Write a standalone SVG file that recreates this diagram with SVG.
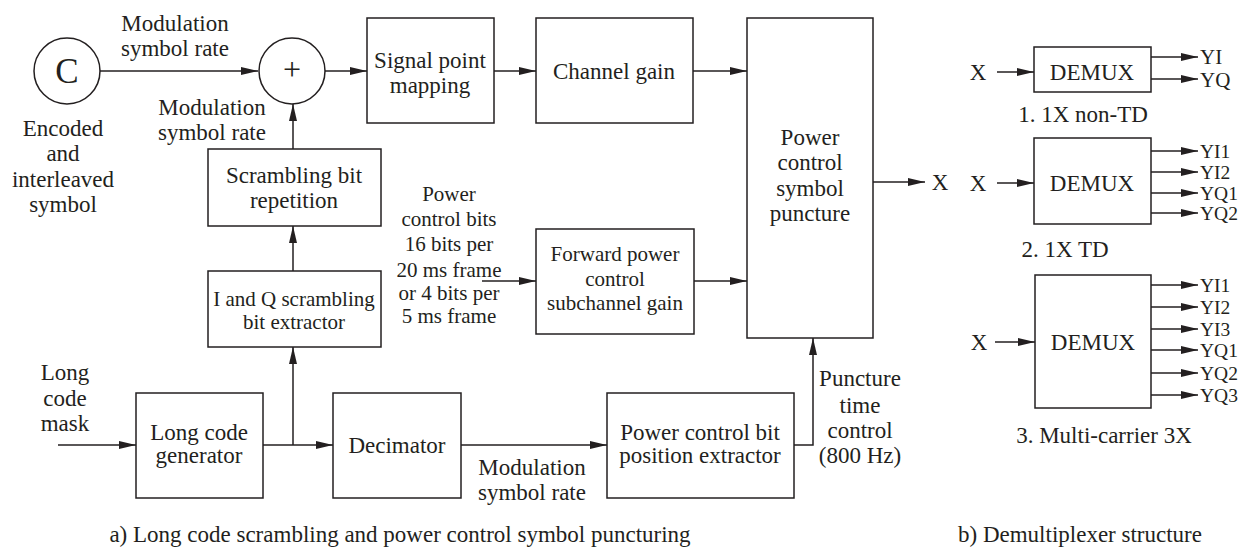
<svg xmlns="http://www.w3.org/2000/svg" width="1247" height="547" viewBox="0 0 1247 547" font-family="'Liberation Serif', 'DejaVu Serif', serif">
<style>
text{font-family:'Liberation Serif','DejaVu Serif',serif;font-size:23px;fill:#231f20;text-anchor:middle}
.s{font-size:21px}
.o{font-size:21px;text-anchor:start}
.p{font-size:19.5px;text-anchor:start}
rect,circle{fill:#fff;stroke:#231f20;stroke-width:1.5}
rect.bg{stroke:none}
.c path{fill:none;stroke:#231f20;stroke-width:1.5;marker-end:url(#a)}
</style>
<defs>
<marker id="a" markerUnits="userSpaceOnUse" markerWidth="17" markerHeight="8" refX="17" refY="4" orient="auto" viewBox="0 0 17 8">
<path d="M0,0 L17,4 L0,8 z" fill="#231f20"/>
</marker>
</defs>
<rect class="bg" width="1247" height="547"/>
<g class="c" id="connectors">
<path d="M100,71 H258"/>
<path d="M325,71 H367"/>
<path d="M494,71 H536"/>
<path d="M693,71 H747"/>
<path d="M293,149 V104"/>
<path d="M293,271 V226"/>
<path d="M293,445 V347"/>
<path d="M58,445 H136"/>
<path d="M263,445 H333"/>
<path d="M461,445 H607"/>
<path d="M794,445 H813 V338"/>
<path d="M482,281 H536"/>
<path d="M694,281 H747"/>
<path d="M873,182 H925"/>
<path d="M997,72 H1034"/>
<path d="M1151,57 H1198"/>
<path d="M1151,79 H1198"/>
<path d="M997,183 H1034"/>
<path d="M1151,151 H1198"/>
<path d="M1151,172 H1198"/>
<path d="M1151,193 H1198"/>
<path d="M1151,213 H1198"/>
<path d="M995,342 H1035"/>
<path d="M1151,285 H1198"/>
<path d="M1151,307 H1198"/>
<path d="M1151,329 H1198"/>
<path d="M1151,350 H1198"/>
<path d="M1151,373 H1198"/>
<path d="M1151,395 H1198"/>
</g>
<g id="source">
<circle cx="67" cy="71" r="33"/>
<text x="67" y="83" style="font-size:35px">C</text>
<text x="63" y="136">Encoded</text>
<text x="63" y="161">and</text>
<text x="63" y="187">interleaved</text>
<text x="63" y="212">symbol</text>
</g>
<g id="adder">
<circle cx="292" cy="71" r="33"/>
<text x="292" y="80" style="font-size:32px">+</text>
</g>
<g id="labels">
<text x="175" y="31">Modulation</text>
<text x="175" y="56">symbol rate</text>
<text x="212" y="115">Modulation</text>
<text x="212" y="140">symbol rate</text>
<text x="65" y="380">Long</text>
<text x="65" y="406">code</text>
<text x="65" y="431">mask</text>
<text x="532" y="475">Modulation</text>
<text x="532" y="500">symbol rate</text>
<text class="s" x="449" y="201">Power</text>
<text class="s" x="449" y="226">control bits</text>
<text class="s" x="449" y="251">16 bits per</text>
<text class="s" x="449" y="277">20 ms frame</text>
<text class="s" x="449" y="300">or 4 bits per</text>
<text class="s" x="449" y="323">5 ms frame</text>
<text x="860" y="386">Puncture</text>
<text x="860" y="413">time</text>
<text x="860" y="438">control</text>
<text x="860" y="463">(800 Hz)</text>
<text x="940" y="190">X</text>
<text x="400" y="542">a) Long code scrambling and power control symbol puncturing</text>
<text x="1080" y="542">b) Demultiplexer structure</text>
</g>
<g id="signal-point-mapping">
<rect x="367" y="18" width="127" height="105"/>
<text x="430" y="68">Signal point</text>
<text x="430" y="93">mapping</text>
</g>
<g id="channel-gain">
<rect x="536" y="18" width="157" height="105"/>
<text x="614" y="79">Channel gain</text>
</g>
<g id="power-control-symbol-puncture">
<rect x="747" y="18" width="126" height="320"/>
<text x="810" y="145">Power</text>
<text x="810" y="170">control</text>
<text x="810" y="196">symbol</text>
<text x="810" y="221">puncture</text>
</g>
<g id="scrambling-bit-repetition">
<rect x="208" y="149" width="173" height="77"/>
<text x="294" y="183">Scrambling bit</text>
<text x="294" y="208">repetition</text>
</g>
<g id="iq-extractor">
<rect x="208" y="271" width="173" height="76"/>
<text class="s" x="294" y="306">I and Q scrambling</text>
<text class="s" x="294" y="329">bit extractor</text>
</g>
<g id="forward-power-control">
<rect x="536" y="229" width="158" height="105"/>
<text class="s" x="615" y="261">Forward power</text>
<text class="s" x="615" y="286">control</text>
<text class="s" x="615" y="310">subchannel gain</text>
</g>
<g id="long-code-generator">
<rect x="136" y="393" width="127" height="105"/>
<text x="199" y="440">Long code</text>
<text x="199" y="463">generator</text>
</g>
<g id="decimator">
<rect x="333" y="393" width="128" height="105"/>
<text x="397" y="453">Decimator</text>
</g>
<g id="pc-bit-position-extractor">
<rect x="607" y="393" width="187" height="105"/>
<text x="700" y="440">Power control bit</text>
<text x="700" y="463">position extractor</text>
</g>
<g id="demux1">
<rect x="1034" y="47" width="117" height="45"/>
<text x="1092" y="80">DEMUX</text>
<text x="978" y="80">X</text>
<text class="o" x="1200" y="64">YI</text>
<text class="o" x="1200" y="87">YQ</text>
<text x="1083" y="122">1. 1X non-TD</text>
</g>
<g id="demux2">
<rect x="1034" y="138" width="117" height="86"/>
<text x="1092" y="191">DEMUX</text>
<text x="978" y="191">X</text>
<text class="p" x="1200" y="158">YI1</text>
<text class="p" x="1200" y="179">YI2</text>
<text class="p" x="1200" y="200">YQ1</text>
<text class="p" x="1200" y="220">YQ2</text>
<text x="1065" y="257">2. 1X TD</text>
</g>
<g id="demux3">
<rect x="1035" y="275" width="116" height="133"/>
<text x="1093" y="350">DEMUX</text>
<text x="979" y="350">X</text>
<text class="p" x="1200" y="292">YI1</text>
<text class="p" x="1200" y="314">YI2</text>
<text class="p" x="1200" y="336">YI3</text>
<text class="p" x="1200" y="357">YQ1</text>
<text class="p" x="1200" y="380">YQ2</text>
<text class="p" x="1200" y="402">YQ3</text>
<text x="1104" y="443">3. Multi-carrier 3X</text>
</g>
</svg>
